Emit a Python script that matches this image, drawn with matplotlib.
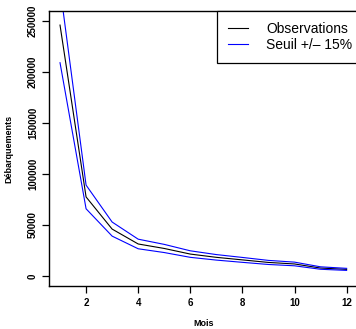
import matplotlib
matplotlib.use("Agg")
import matplotlib.pyplot as plt

plt.rcParams['font.family'] = ['Liberation Sans', 'DejaVu Sans']

mois = [1, 2, 3, 4, 5, 6, 7, 8, 9, 10, 11, 12]
observations = [246000, 77500, 46000, 31400, 27000, 21500, 18300, 15800, 13300, 11800, 7800, 6500]
seuil_haut = [283000, 89100, 52900, 36100, 31000, 24700, 21000, 18200, 15300, 13600, 9000, 7500]
seuil_bas = [209100, 65900, 39100, 26700, 23000, 18300, 15600, 13400, 11300, 10000, 6600, 5500]
xticks = [2, 4, 6, 8, 10, 12]
yticks = [0, 50000, 100000, 150000, 200000, 250000]

W, H = 356, 329
fig = plt.figure(figsize=(W / 100, H / 100), dpi=100)
ax = fig.add_axes([49 / W, 1 - 286 / H, 1 - 49 / W, (286 - 11) / H])

ax.plot(mois, observations, color='black', lw=0.8, label='Observations')
ax.plot(mois, seuil_haut, color='#0000FF', lw=0.8, label='Seuil +/\u2013 15%')
ax.plot(mois, seuil_bas, color='#0000FF', lw=0.8)

ax.set_xlim(0.577, 12.36)
ax.set_ylim(-9800, 259800)
ax.set_xticks(xticks)
ax.set_xticklabels([str(v) for v in xticks], fontsize=7, fontweight='bold')
ax.set_yticks(yticks)
ax.set_yticklabels([str(v) for v in yticks], fontsize=7, fontweight='bold',
                   rotation=90, va='center')
ax.tick_params(axis='x', length=5, width=0.9, pad=4.0)
ax.tick_params(axis='y', length=5, width=0.9, pad=3.0)
ax.spines['right'].set_visible(False)
for s in ['left', 'bottom', 'top']:
    ax.spines[s].set_linewidth(1.0)

leg = ax.legend(loc='upper left', bbox_to_anchor=((217 - 49) / (W - 49), 1.0),
                borderaxespad=0, fancybox=False, framealpha=1, edgecolor='black',
                fontsize=10, handlelength=1.45, handletextpad=1.3, borderpad=0.8,
                labelspacing=0.15)
leg.get_frame().set_linewidth(0.9)

fig.text(9 / W, 1 - 148.5 / H, 'Débarquements', rotation=90, ha='center', va='center',
         fontsize=6.5, fontweight='bold')
fig.text(204 / W, 1 - 324 / H, 'Mois', ha='center', va='center',
         fontsize=6.5, fontweight='bold')

fig.savefig('out.png', dpi=100)
